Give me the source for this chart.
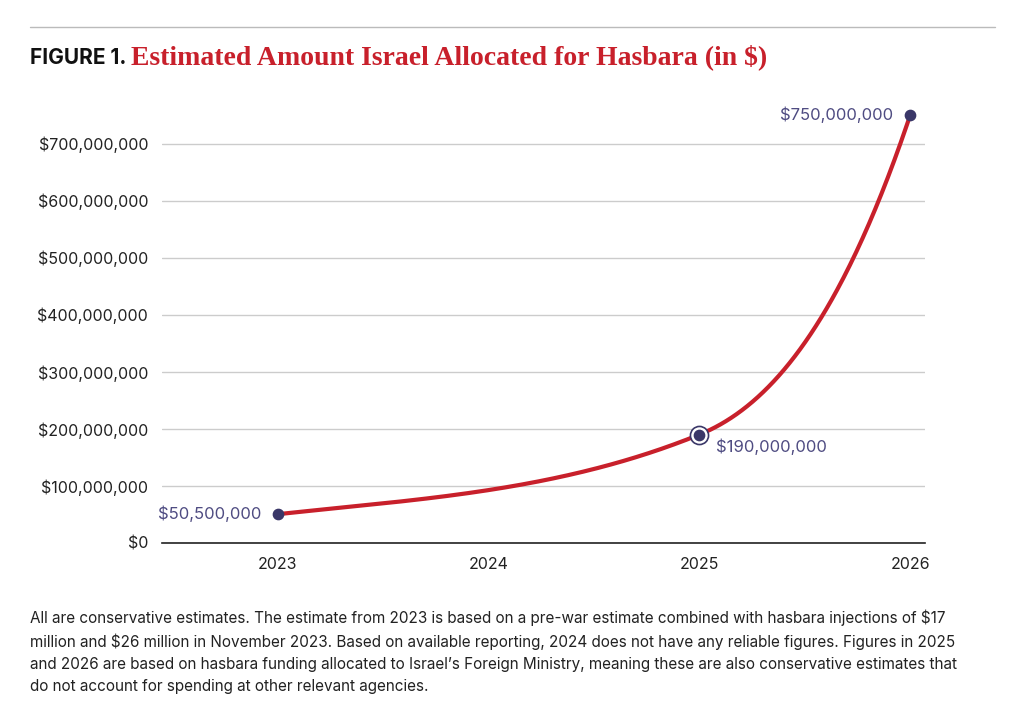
import numpy as np, pandas as pd, matplotlib
matplotlib.use("Agg")
import matplotlib.pyplot as plt, seaborn as sns
from matplotlib.lines import Line2D

years = [2023, 2025, 2026]
amounts = [50_500_000, 190_000_000, 750_000_000]
labels = ["$50,500,000", "$190,000,000", "$750,000,000"]
tangents = [40e6, 150e6, 1100e6]  # curve smoothing slopes (per year)
yticks = [0, 100e6, 200e6, 300e6, 400e6, 500e6, 600e6, 700e6]
xticks = [2023, 2024, 2025, 2026]

xs, ys = [], []
for i in range(len(years) - 1):
    x0, x1 = years[i], years[i+1]; d = x1 - x0
    t = np.linspace(0, 1, 200)
    h00 = 2*t**3-3*t**2+1; h10 = t**3-2*t**2+t; h01 = -2*t**3+3*t**2; h11 = t**3-t**2
    xs += list(x0 + t*d)
    ys += list(h00*amounts[i] + h10*d*tangents[i] + h01*amounts[i+1] + h11*d*tangents[i+1])
curve = pd.DataFrame({"x": xs, "y": ys})

sns.set_style("white")
plt.rcParams["font.family"] = ["Inter", "DejaVu Sans"]
fig = plt.figure(figsize=(10.24, 7.26), dpi=100)
ax = fig.add_axes([162/1024, 1-543/726, (925-162)/1024, (543-95)/726])
sns.lineplot(data=curve, x="x", y="y", ax=ax, color="#c8202b", lw=3, zorder=2)
navy = "#3a3768"
ax.scatter(years, amounts, s=55, color=navy, zorder=4)
ax.scatter([years[1]], [amounts[1]], s=170, facecolor="white", edgecolor=navy, lw=1.2, zorder=3)
ax.set_xlim(2022.45, 2026.07); ax.set_ylim(0, 785e6)
ax.set_yticks(yticks); ax.set_xticks(xticks)
ax.set_yticklabels([f"${v:,.0f}" for v in yticks], fontsize=11.5, color="#222")
ax.set_xticklabels([str(x) for x in xticks], fontsize=11.5, color="#222")
ax.grid(axis="y", color="#cccccc", lw=1); ax.set_axisbelow(True)
for s in ["top", "right", "left"]: ax.spines[s].set_visible(False)
ax.spines["bottom"].set_color("#222"); ax.spines["bottom"].set_linewidth(1.2)
ax.tick_params(axis="both", length=0, pad=10)
ax.set_xlabel(""); ax.set_ylabel("")
lc = "#4f4c82"
ax.annotate(labels[0], (years[0], amounts[0]), xytext=(-12, 0), textcoords="offset points", ha="right", va="center", fontsize=12, color=lc)
ax.annotate(labels[1], (years[1], amounts[1]), xytext=(12, -9), textcoords="offset points", ha="left", va="center", fontsize=12, color=lc)
ax.annotate(labels[2], (years[2], amounts[2]), xytext=(-12, 0), textcoords="offset points", ha="right", va="center", fontsize=12, color=lc)

fig.add_artist(Line2D([30/1024, 995/1024], [1-27/726]*2, color="#bbbbbb", lw=1))
t1 = fig.text(30/1024, 1-58/726, "FIGURE 1. ", fontsize=15, fontweight="bold", va="center", color="#111")
fig.canvas.draw()
bb = t1.get_window_extent()
fig.text(bb.x1/1024, 1-57/726, "Estimated Amount Israel Allocated for Hasbara (in $)", fontsize=20,
         fontweight="bold", family=["Liberation Serif", "DejaVu Serif"], color="#c8202b", va="center")
note = ("All are conservative estimates. The estimate from 2023 is based on a pre-war estimate combined with hasbara injections of $17\n"
        "million and $26 million in November 2023. Based on available reporting, 2024 does not have any reliable figures. Figures in 2025\n"
        "and 2026 are based on hasbara funding allocated to Israel’s Foreign Ministry, meaning these are also conservative estimates that\n"
        "do not account for spending at other relevant agencies.")
fig.text(30/1024, 1-610/726, note, fontsize=11, va="top", color="#222", linespacing=1.55)
fig.savefig("out.png", dpi=100, facecolor="white")
